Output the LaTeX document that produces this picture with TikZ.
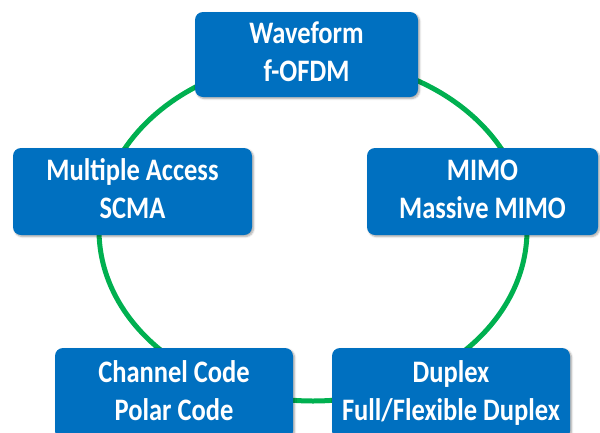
\documentclass[tikz,border=0pt]{standalone}
\usepackage{fontspec}
\setmainfont{Carlito}
\usetikzlibrary{shadows.blur}
\definecolor{boxblue}{RGB}{0,112,192}
\definecolor{ringgreen}{RGB}{0,176,80}
\newcommand{\twoline}[2]{\scalebox{1}[1.18]{\begin{tabular}{@{}c@{}}#1\\#2\end{tabular}}}
\tikzset{
  box/.style={fill=boxblue, rounded corners=8pt, text=white,
    font=\bfseries\fontsize{26.5}{32.2}\selectfont, inner sep=0pt,
    blur shadow={shadow xshift=1.5pt, shadow yshift=-1.5pt, shadow blur steps=6, shadow opacity=35}},
  ring/.style={draw=ringgreen, line width=5pt}
}
\begin{document}
\begin{tikzpicture}[x=1pt,y=-1pt]
\useasboundingbox (0,0) rectangle (600,432);
\coordinate (c) at (313,230);
\draw[ring] (c) ellipse [x radius=214pt, y radius=171pt];
\node[box, minimum width=223pt, minimum height=85pt] (wf) at (306.5,54.5) {\twoline{Waveform}{f-OFDM}};
\node[box, minimum width=239pt, minimum height=87pt] (ma) at (132.5,191.5) {\twoline{Multiple Access}{SCMA}};
\node[box, minimum width=231pt, minimum height=87pt] (mimo) at (482.5,191.5) {\twoline{MIMO}{Massive MIMO}};
\node[box, minimum width=238pt, minimum height=91pt] (cc) at (174,393.5) {\twoline{Channel Code}{Polar Code}};
\node[box, minimum width=238pt, minimum height=91pt] (dp) at (451,393.5) {\twoline{Duplex}{Full/Flexible Duplex}};
\end{tikzpicture}
\end{document}
